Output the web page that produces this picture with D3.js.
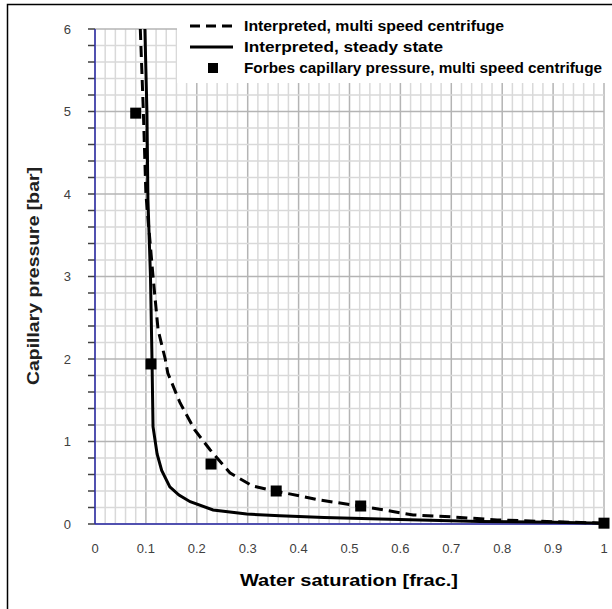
<!DOCTYPE html>
<html><head><meta charset="utf-8">
<script src="https://cdn.jsdelivr.net/npm/d3@7"></script>
<style>body{margin:0;background:#fff}svg{display:block}</style>
</head><body>
<svg id="c" width="612" height="609"></svg>
<script>
const xTicks = [0,0.1,0.2,0.3,0.4,0.5,0.6,0.7,0.8,0.9,1];
const yTicks = [0,1,2,3,4,5,6];
const seriesNames = ["Interpreted, multi speed centrifuge","Interpreted, steady state","Forbes capillary pressure, multi speed centrifuge"];
const centrifugeSw = [0.089,0.095,0.100,0.114,0.124,0.138,0.143,0.167,0.196,0.226,0.265,0.31,0.354,0.442,0.519,0.625,0.703,0.79,0.888,1.0];
const centrifugePc = [6,5,4,3,2.35,2.0,1.83,1.47,1.14,0.9,0.62,0.46,0.40,0.29,0.22,0.11,0.085,0.05,0.03,0.01];
const steadySw = [0.098,0.102,0.104,0.109,0.112,0.114,0.122,0.131,0.147,0.165,0.187,0.232,0.298,0.363,0.45,0.56,0.756,0.9,1.0];
const steadyPc = [6,5,3.93,3.0,1.99,1.18,0.85,0.65,0.45,0.35,0.27,0.17,0.12,0.10,0.08,0.06,0.03,0.02,0.01];
const forbesSw = [0.08,0.11,0.228,0.356,0.522,1.0];
const forbesPc = [4.98,1.94,0.727,0.40,0.218,0.01];

const svg = d3.select("#c");
const L=95, R=604, T=29, B=524;
const x = d3.scaleLinear().domain([0,1]).range([L,R]);
const y = d3.scaleLinear().domain([0,6]).range([B,T]);

// outer frame
svg.append("rect").attr("x",7.5).attr("y",4.5).attr("width",700).attr("height",700)
  .attr("fill","none").attr("stroke","#000").attr("stroke-width",1.5);

// grid
const g = svg.append("g");
d3.range(0,51).forEach(i=>{
  const v=i/50, major = i%5===0;
  g.append("line").attr("x1",x(v)).attr("x2",x(v)).attr("y1",T).attr("y2",B)
   .attr("stroke", major?"#b4b4b4":"#d9d9d9").attr("stroke-width",1.5);
});
d3.range(0,31).forEach(i=>{
  const v=i/5, major = i%5===0;
  g.append("line").attr("x1",L).attr("x2",R).attr("y1",y(v)).attr("y2",y(v))
   .attr("stroke", major?"#b4b4b4":"#d9d9d9").attr("stroke-width",1.5);
});

// y ticks (outside)
d3.range(0,31).forEach(i=>{
  const v=i/5;
  svg.append("line").attr("x1",L-7).attr("x2",L).attr("y1",y(v)).attr("y2",y(v))
   .attr("stroke","#404040").attr("stroke-width",1.5);
});

// axes lines
svg.append("line").attr("x1",L).attr("x2",L).attr("y1",T).attr("y2",B).attr("stroke","#2a2aa8").attr("stroke-width",1.5);
svg.append("line").attr("x1",L).attr("x2",R).attr("y1",B).attr("y2",B).attr("stroke","#2a2aa8").attr("stroke-width",1.5);

// tick labels
svg.selectAll("text.yl").data(yTicks).enter().append("text")
  .attr("x",71).attr("y",d=>y(d)+4.5).attr("text-anchor","end")
  .attr("font-family","Liberation Sans, Arial, sans-serif").attr("font-size",13).attr("fill","#404040")
  .text(d=>d);
svg.selectAll("text.xl").data(xTicks).enter().append("text")
  .attr("x",d=>x(d)).attr("y",553).attr("text-anchor","middle")
  .attr("font-family","Liberation Sans, Arial, sans-serif").attr("font-size",13).attr("fill","#404040")
  .text(d=>d);

// axis titles
svg.append("text").attr("x",349).attr("y",586).attr("text-anchor","middle")
  .attr("font-family","Liberation Sans, Arial, sans-serif").attr("font-weight","bold").attr("font-size",16)
  .attr("textLength",218).attr("lengthAdjust","spacingAndGlyphs").attr("fill","#000")
  .text("Water saturation [frac.]");
svg.append("text").attr("transform","translate(39,276) rotate(-90)").attr("text-anchor","middle")
  .attr("font-family","Liberation Sans, Arial, sans-serif").attr("font-weight","bold").attr("font-size",16)
  .attr("textLength",218).attr("lengthAdjust","spacingAndGlyphs")
  .attr("fill","#202020")
  .text("Capillary pressure [bar]");

// clip
svg.append("clipPath").attr("id","pc").append("rect").attr("x",L-10).attr("y",T).attr("width",R-L+20).attr("height",B-T+6);

const line = d3.line().x(d=>x(d[0])).y(d=>y(d[1]));
const plot = svg.append("g").attr("clip-path","url(#pc)");
plot.append("path").datum(d3.zip(steadySw,steadyPc)).attr("d",line)
  .attr("fill","none").attr("stroke","#000").attr("stroke-width",3);
plot.append("path").datum(d3.zip(centrifugeSw,centrifugePc)).attr("d",line)
  .attr("fill","none").attr("stroke","#000").attr("stroke-width",3).attr("stroke-dasharray","11,6");
svg.selectAll("rect.m").data(d3.zip(forbesSw,forbesPc)).enter().append("rect")
  .attr("x",d=>x(d[0])-5.5).attr("y",d=>y(d[1])-5.5).attr("width",11).attr("height",11).attr("fill","#000");

// legend
svg.append("rect").attr("x",177).attr("y",6).attr("width",440).attr("height",77).attr("fill","#fff");
const lg = svg.append("g");
lg.append("line").attr("x1",190).attr("x2",233).attr("y1",26).attr("y2",26)
  .attr("stroke","#000").attr("stroke-width",3).attr("stroke-dasharray","10,6");
lg.append("line").attr("x1",190).attr("x2",233).attr("y1",47).attr("y2",47)
  .attr("stroke","#000").attr("stroke-width",3);
lg.append("rect").attr("x",208).attr("y",63).attr("width",10).attr("height",10).attr("fill","#000");
const lw=[260,199,358], ly=[26,47,68];
seriesNames.forEach((s,i)=>{
  lg.append("text").attr("x",244).attr("y",ly[i]+5).attr("font-family","Liberation Sans, Arial, sans-serif")
   .attr("font-weight","bold").attr("font-size",14).attr("textLength",lw[i]).attr("lengthAdjust","spacingAndGlyphs")
   .attr("fill","#000").text(s);
});
</script>
</body></html>
